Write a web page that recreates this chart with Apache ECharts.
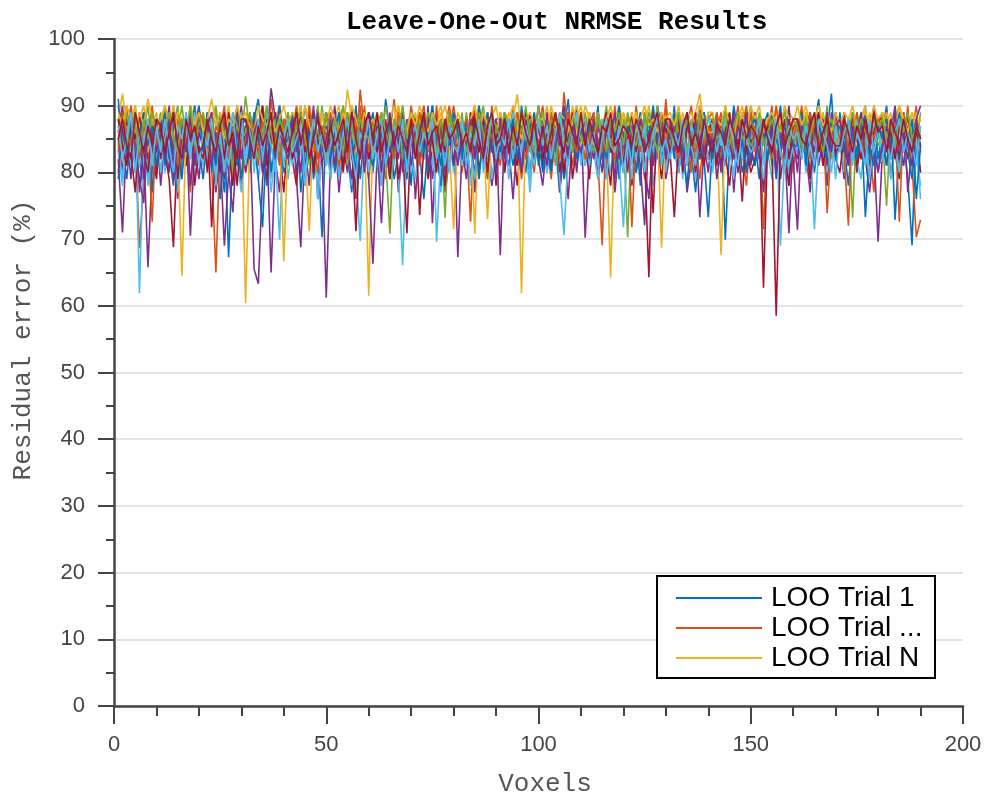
<!DOCTYPE html>
<html>
<head>
<meta charset="utf-8">
<title>Leave-One-Out NRMSE Results</title>
<script src="https://cdn.jsdelivr.net/npm/echarts@6/dist/echarts.min.js"></script>
<style>
  html, body { margin: 0; padding: 0; background: #ffffff; }
  #chart { width: 989px; height: 799px; }
</style>
</head>
<body>
<div id="chart"></div>
<script>
// Residual error (%) per voxel (voxels 1..190) for each leave-one-out trial
const trial01 = [
  91,84,79,86,89,82,77,88,85,80, 87,90,83,78,85,88,81,86,90,84,
  79,86,89,83,76,87,67.3,84,90,82, 86,80,88,91,84,78,85,89,82,87,
  83,89,80,85,90,86,79,84,70.3,88, 85,81,87,90,83,77,86,88,82,89,
  80,87,84,91,86,79,83,88,85,78, 88,83,76,85,90,84,87,81,89,86,
  82,88,85,79,87,90,83,86,78,84, 89,84,81,87,83,90,85,79,88,82,
  86,80,89,84,77,86,91,83,85,88, 81,87,84,90,82,79,86,89,84,80,
  88,83,86,78,89,85,82,90,87,81, 84,90,80,86,88,83,77,85,89,84,
  87,82,88,69.9,84,90,86,80,83,89, 85,79,87,89,82,86,90,84,78,88,
  83,88,85,80,87,91,84,86,91.8,82, 89,84,78,86,83,88,90,81,85,80,
  86,90,83,88,81,85,79,69.1,87,84
];
const trial02 = [
  84,88,90,82,86,68.7,79,87,89,83, 88,82,85,90,79,86,84,77,87,90,
  85,89,81,65,84,88,86,79,90,83, 87,83,89,86,80,84,91,85,82,88,
  82,86,90,84,78,87,83,89,86,81, 89,84,80,87,85,90,83,92.4,86,79,
  85,88,83,79,86,91,84,87,80,89, 83,87,90,85,81,88,84,78,86,90,
  86,80,85,72.6,89,84,87,82,90,85, 81,88,84,90,86,79,85,89,83,87,
  90,84,79,86,88,83,87,81,85,89, 84,89,86,82,69.1,88,84,90,80,86,
  87,83,90,85,79,86,88,84,82,91, 83,88,84,80,87,90,85,79,86,88,
  89,85,81,88,84,86,90,83,78,87, 84,88,71.5,86,90,82,87,85,89,80,
  86,90,84,79,88,85,82,89,86,83, 88,83,87,85,80,86,89,84,77,87,
  85,89,82,86,88,84,90,81,70.3,72.9
];
const trial03 = [
  88,91.8,87,89,85,88,90,86,84,88, 87,90,88,85,89,87,84,88,90,86,
  89,86,88,90,85,87,89,84,87,88, 60.4,85,88,86,89,87,83,88,90,86,
  87,89,85,88,86,90,87,84,88,89, 85,88,90,86,92.4,88,85,89,87,61.5,
  86,89,87,84,88,90,86,88,85,89, 88,85,89,87,83,88,90,86,89,87,
  86,88,84,89,87,90,85,88,86,84, 89,87,85,88,91.7,86,89,87,84,88,
  87,90,86,88,85,87,89,84,88,90, 85,88,87,89,86,84,64.2,88,90,87,
  88,86,89,85,87,90,86,84,88,89, 86,89,87,84,88,86,89,91.8,87,85,
  88,86,67.6,87,89,85,88,90,86,87, 89,87,85,88,86,90,87,84,89,88,
  86,88,90,87,84,88,86,89,87,85, 88,85,87,89,86,88,90,85,88,87,
  87,89,86,88,90,85,87,89,86,88
];
const trial04 = [
  82,71,86,79,88,77,84,65.8,81,87, 78,85,80,88,76,83,87,70.5,84,79,
  86,81,89,77,83,69,80,85,88,78, 83,87,65.5,63.3,79,85,65,82,77,86,
  81,88,79,68.8,84,78,89,76,83,61.2, 82,86,77,84,80,89,76,83,87,79,
  66.3,83,78,86,81,88,77,84,80,87, 76,85,82,89,79,83,86,77,82,88,
  67.3,84,79,86,77,85,81,89,78,83, 87,80,84,76,85,81,88,79,86,82,
  78,85,81,89,77,84,76,86,82,88, 70.2,83,87,79,85,80,88,77,84,81,
  86,78,84,88,81,76,85,82,89,79, 83,88,80,85,77,82,87,73.3,84,80,
  87,79,84,81,88,77,85,89,80,84, 81,86,77,85,82,88,79,84,70.9,86,
  80,87,83,77,86,81,85,78,89,82, 85,79,84,88,80,86,82,77,84,69.6,
  83,88,79,85,81,89,77,84,87,80
];
const trial05 = [
  85,89,83,87,90,84,86,81,88,86, 89,84,87,82,86,90,85,88,83,87,
  84,88,85,90,83,86,89,80,87,85, 91.4,86,83,88,85,89,84,87,82,88,
  86,83,89,85,87,81,88,84,90,85, 83,88,86,90,84,87,82,89,85,87,
  88,84,87,82,70.8,88,85,90,83,86, 85,89,84,87,83,88,86,73.2,89,84,
  87,83,89,85,88,80,86,89,84,87, 84,88,86,82,89,85,87,83,88,86,
  89,85,83,88,86,90,84,87,82,88, 86,82,88,84,87,89,85,81,88,85,
  70.3,87,85,89,83,86,90,84,87,83, 88,84,87,83,89,85,82,88,86,89,
  84,88,85,90,86,82,87,84,89,86, 87,83,88,85,81,88,86,90,84,87,
  85,89,83,87,86,84,89,85,82,88, 88,84,86,73.2,89,85,83,88,86,84,
  86,75,88,84,87,89,85,82,88,86
];
const trial06 = [
  83,78,86,81,88,61.9,84,79,87,82, 86,80,84,89,77,85,82,88,79,84,
  81,87,83,78,86,84,80,88,82,77, 85,82,88,79,84,86,77,83,69.9,87,
  79,85,82,88,80,84,87,76,83,86, 82,88,79,84,86,78,85,83,88,80,
  86,81,78,85,83,87,80,66.1,84,82, 79,86,83,88,81,85,77,84,87,80,
  85,81,87,78,84,88,82,86,79,84, 82,87,79,85,88,81,84,77,86,83,
  88,80,84,86,79,70.6,83,87,81,85, 81,86,83,79,88,84,80,86,82,88,
  84,79,87,82,85,88,78,84,86,80, 87,83,80,86,82,88,79,85,83,87,
  80,85,88,81,84,79,87,83,86,82, 85,82,79,87,84,88,69,83,80,86,
  83,87,81,85,71.5,84,88,80,86,83, 86,80,84,88,82,79,86,83,87,81,
  82,86,79,84,87,81,85,88,83,78
];
const trial07 = [
  85,80,88,83,77,86,89,82,84,79, 87,83,79,68.8,85,88,81,86,78,84,
  82,88,71.8,85,80,87,83,78,86,89, 80,84,88,82,86,79,85,89,83,77,
  86,82,78,87,84,89,80,85,82,88, 79,86,84,81,88,83,77,86,89,82,
  84,88,80,85,83,87,79,84,70.9,86, 88,82,86,79,84,89,83,78,86,82,
  83,87,81,86,89,80,85,82,88,78, 86,80,88,84,78,86,83,89,81,85,
  81,86,83,88,80,85,89,79,84,87, 85,79,86,82,88,83,78,87,84,81,
  88,83,80,86,82,64.3,87,84,79,86, 83,73.3,85,88,81,86,80,85,88,82,
  86,81,88,83,78,85,89,82,84,80, 82,87,62.7,85,88,80,86,83,78,87,
  87,83,85,79,86,89,81,84,87,82, 80,86,83,88,81,84,87,79,85,88,
  85,81,87,83,79,86,82,88,84,80
];
const trial08 = [
  79,87,84,90,81,86,83,88,77,85, 86,81,89,84,78,87,85,82,90,83,
  84,89,80,86,83,77,88,85,81,87, 88,83,85,79,71.8,86,89,82,85,80,
  82,86,89,77,84,88,81,86,83,89, 87,80,84,88,82,85,90,79,86,83,
  81,88,83,85,79,87,84,89,82,86, 86,82,89,80,87,83,78,88,85,81,
  84,87,81,88,83,90,85,79,86,88, 88,83,86,81,89,84,80,87,83,85,
  80,86,88,83,85,79,87,84,90,82, 87,81,84,89,82,86,83,88,79,86,
  83,88,80,85,87,82,90,84,81,88, 86,82,89,83,78,86,84,87,82,73.3,
  85,89,82,86,83,88,80,85,89,83, 81,86,88,82,86,79,87,84,81,88,
  88,83,85,89,80,86,83,88,84,82, 84,87,81,86,83,88,73.3,84,89,82,
  86,81,88,72.9,84,87,83,79,86,84
];
const trial09 = [
  88,83,86,90,84,81,87,85,72.6,88, 84,89,82,86,88,80,85,90,83,86,
  87,81,88,84,86,90,82,87,85,79, 83,88,85,81,89,84,87,83,90,85,
  86,82,87,90,83,88,85,80,87,84, 89,84,81,86,88,83,87,90,82,86,
  83,87,89,84,80,86,88,83,85,90, 86,81,85,88,84,90,82,87,83,86,
  88,85,82,87,90,83,86,79,88,84, 84,88,86,82,87,85,89,84,80,87,
  87,83,89,85,82,92,86,83,88,85, 82,86,84,89,85,81,88,85,87,83,
  88,71.8,86,83,89,85,82,88,84,90, 85,88,83,87,84,80,87,90,85,82,
  83,86,89,84,88,85,81,87,90,84, 87,84,82,88,85,90,84,80,86,88,
  84,89,86,82,87,84,88,73.9,85,89, 86,83,72,88,85,82,89,86,83,87,
  89,85,82,87,72.6,88,84,86,90,83
];
const trial10 = [
  86,89,84,87,90,85,88,83,87,89, 84,88,86,90,85,64.5,87,89,84,88,
  87,85,89,84,88,86,90,85,83,88, 89,86,84,88,85,87,89,83,87,66.7,
  85,88,86,90,84,71.2,87,85,89,86, 88,84,87,85,89,86,83,88,85,87,
  86,89,85,83,88,86,90,84,87,85, 89,85,88,86,83,87,89,85,84,71.5,
  86,88,84,87,70.8,89,85,73,88,86, 84,87,89,85,88,61.9,87,84,89,86,
  88,85,86,89,84,87,85,90,86,84, 87,89,84,86,88,85,83,88,86,89,
  85,87,89,84,86,88,85,87,68.7,88, 87,84,86,89,85,87,88,84,86,89,
  89,86,84,88,86,83,87,89,85,87, 85,88,86,84,89,87,85,88,84,86,
  88,85,89,86,84,87,89,85,88,84, 86,89,85,87,88,84,86,89,85,88,
  84,87,89,85,86,88,84,87,89,85
];
const trial11 = [
  86,90,82,88,84,79,75.4,87,89,83, 88,84,90,81,86,83,89,78,85,88,
  84,87,89,82,86,88,80,74,85,90, 82,86,88,84,90,85,92.6,88,83,86,
  89,83,86,80,87,84,90,82,86,84, 85,90,83,87,84,79,86,88,82,89,
  87,84,72.4,85,89,83,87,80,88,84, 84,88,82,90,72.4,85,83,88,86,81,
  88,83,87,84,80,86,89,83,85,88, 67.6,87,84,89,82,86,83,88,85,90,
  85,81,88,84,87,90,83,86,80,87, 88,85,82,87,84,89,85,79,88,84,
  83,88,85,81,72.1,86,89,84,87,82, 87,83,89,85,88,82,86,90,83,86,
  84,88,83,87,85,89,80,86,88,84, 89,84,87,82,86,88,83,85,90,82,
  71.4,87,85,89,83,86,88,81,86,89, 85,89,82,86,88,84,87,83,90,85,
  88,83,86,90,84,81,87,85,88,90
];
const trial12 = [
  87,84,89,85,82,88,86,90,84,87, 85,89,83,87,90,84,86,82,88,85,
  88,83,86,89,85,81,87,84,90,86, 84,88,85,82,87,90,85,88,83,87,
  89,85,87,84,88,83,86,90,85,82, 86,83,89,87,81,88,85,84,89,86,
  83,88,85,90,86,84,88,82,87,89, 88,84,87,83,89,86,81,87,85,88,
  85,89,82,88,84,87,90,85,83,86, 87,83,88,86,82,89,84,88,86,90,
  84,88,86,81,88,85,87,83,89,85, 89,85,83,88,86,90,84,87,82,88,
  86,82,88,85,89,84,86,90,85,83, 84,89,85,87,83,88,85,82,88,86,
  88,85,82,88,86,84,89,85,87,90, 85,88,86,83,89,85,82,88,86,84,
  87,83,89,86,84,88,85,90,83,87, 84,88,85,82,87,89,84,86,88,85,
  89,85,87,84,80,86,88,85,84,89
];
const trial13 = [
  84,79,87,83,89,81,86,78,85,88, 80,86,83,88,78,85,87,82,89,84,
  87,82,85,79,88,84,81,86,83,89, 82,88,80,86,84,89,79,85,88,81,
  86,81,88,83,78,86,84,89,82,85, 79,87,84,86,82,88,80,69.7,85,83,
  88,83,79,87,85,81,88,84,86,80, 84,88,82,85,89,69.6,83,87,80,86,
  81,86,88,83,79,87,85,82,88,84, 87,82,85,89,81,84,88,79,86,83,
  83,88,80,86,84,82,87,85,89,81, 86,81,87,83,88,79,85,88,82,71.8,
  84,88,82,87,80,86,83,89,81,85, 88,83,86,79,87,84,81,86,88,82,
  81,87,84,88,83,80,86,82,87,85, 86,82,88,83,79,87,85,88,81,84,
  83,88,80,86,84,88,82,85,87,79, 87,84,86,81,88,83,87,79,84,88,
  82,86,88,84,80,87,83,88,85,76
];
const trial14 = [
  88,84,81,87,85,89,83,80,86,88, 82,87,85,89,79,86,84,88,81,87,
  86,80,88,84,87,82,89,85,78,86, 84,88,83,86,90,81,86,83,88,84,
  87,82,85,89,83,87,80,86,84,88, 83,88,86,80,87,84,71.2,86,89,82,
  86,83,88,85,79,87,84,89,82,86, 88,73.6,84,87,85,80,88,83,86,84,
  84,87,82,89,86,83,88,80,87,85, 87,83,88,84,81,86,89,85,82,88,
  82,86,84,88,87,80,85,89,84,86, 88,84,87,82,86,89,83,85,88,81,
  85,89,83,87,84,86,73.9,88,83,87, 83,86,88,80,87,85,89,84,81,86,
  88,84,81,86,89,83,85,75.6,87,84, 85,88,84,87,83,58.5,84,88,82,87,
  87,82,88,84,86,89,81,85,88,83, 84,87,83,89,85,82,87,84,86,88,
  88,84,86,82,87,85,89,83,86,84
];
const trial15 = [
  90,86,83,88,80,85,89,84,87,81, 85,89,82,87,84,79,88,86,83,90,
  83,87,85,81,89,86,83,88,84,79, 87,82,89,85,83,88,80,86,90,84,
  85,89,83,87,81,86,88,83,85,89, 82,86,89,83,87,85,80,88,84,86,
  89,84,86,81,88,83,87,85,79,88, 84,88,83,86,90,85,81,87,84,89,
  86,82,88,84,87,79,86,89,83,85, 83,89,85,88,82,87,84,86,89,81,
  88,84,80,87,85,89,83,86,82,87, 84,87,89,83,86,82,88,85,90,84,
  87,82,85,89,84,88,81,86,83,88, 85,89,83,86,88,84,87,82,89,85,
  82,86,88,84,87,83,89,85,80,87, 88,84,86,82,89,85,83,87,86,84,
  84,89,81,87,85,88,84,82,88,86, 87,83,88,85,82,86,89,84,81,87,
  85,88,84,86,89,83,85,88,76,84
];
const trial16 = [
  83,89,86,84,88,82,87,85,90,84, 86,83,89,85,81,88,84,87,83,89,
  88,84,82,87,85,89,83,86,88,82, 85,89,86,83,88,84,87,85,81,88,
  87,83,88,86,84,90,85,82,87,84, 84,88,85,89,82,86,88,84,90,83,
  88,85,83,87,85,82,89,86,84,88, 85,89,86,84,88,86,83,87,90,85,
  83,86,88,85,82,89,84,88,85,87, 88,84,86,83,89,85,82,86,88,84,
  85,88,83,87,86,84,89,85,83,88, 87,84,89,85,83,88,86,82,87,85,
  84,87,85,88,85,83,88,86,89,84, 88,85,82,86,89,85,83,88,84,87,
  85,89,86,84,87,82,88,85,86,89, 83,86,88,85,82,87,89,84,88,85,
  88,84,86,89,85,83,86,88,84,87, 85,88,83,86,89,85,82,87,85,88,
  87,84,88,85,83,89,86,84,87,85
];
const trial17 = [
  89,87,90,88,86,89,87,91,88,86, 88,90,87,85,89,88,86,90,87,89,
  86,88,91,87,89,85,88,87,90,88, 89,87,86,90,88,87,89,86,88,90,
  87,89,88,86,90,87,85,89,88,87, 90,88,86,89,87,90,88,86,89,87,
  88,86,89,87,85,88,90,87,86,89, 87,90,88,86,89,87,88,90,87,86,
  89,87,85,88,90,86,89,87,88,90, 86,89,88,90,87,85,88,89,87,88,
  88,86,90,87,89,88,86,88,90,87, 90,88,87,89,86,88,90,87,85,89,
  87,89,86,88,90,87,88,86,89,88, 89,87,90,86,88,89,87,90,88,86,
  86,88,87,90,87,85,89,88,86,90, 88,90,86,88,89,87,86,90,88,87,
  90,87,89,86,88,90,87,88,86,89, 87,89,88,90,86,88,89,87,90,88,
  89,86,88,87,90,88,86,89,87,88
];
const trial18 = [
  80,87,84,89,82,86,79,88,85,83, 86,82,88,79,85,87,83,89,81,86,
  84,88,81,86,83,79,87,84,89,82, 87,83,86,88,80,85,89,82,86,84,
  82,88,84,80,87,83,86,89,81,85, 88,81,86,84,89,82,85,87,80,88,
  84,87,80,88,83,86,82,89,85,81, 87,83,89,81,86,84,88,80,87,85,
  81,86,84,88,82,89,83,86,84,80, 88,82,87,83,86,80,88,85,82,87,
  83,89,81,86,84,88,82,87,85,83, 86,82,88,84,80,87,85,89,82,86,
  80,87,84,88,83,86,81,85,88,82, 87,83,86,81,89,84,88,82,86,85,
  83,88,80,86,84,82,87,85,89,81, 86,82,88,84,87,80,86,83,88,84,
  82,87,85,88,81,86,84,89,83,87, 88,84,81,87,85,89,82,86,84,80,
  84,87,83,89,82,86,84,81,88,85
];
const trial19 = [
  86,88,84,89,87,83,88,85,89,86, 84,87,89,85,83,88,86,90,84,87,
  89,85,87,83,88,86,84,89,87,85, 86,89,84,87,85,90,86,83,88,86,
  88,84,87,89,85,83,88,86,84,89, 85,88,86,83,89,87,84,88,86,85,
  87,85,89,86,84,88,86,90,85,87, 84,88,85,89,87,83,88,84,89,86,
  88,86,83,87,85,89,86,84,88,87, 85,89,87,84,88,86,90,85,83,88,
  87,84,88,86,89,85,84,88,87,85, 84,88,85,89,86,83,88,86,89,84,
  89,86,84,87,85,89,86,83,88,87, 86,84,89,85,88,86,84,89,85,88,
  88,85,86,89,84,87,89,85,86,84, 85,89,84,86,88,85,87,89,84,88,
  87,84,88,85,89,86,83,87,88,85, 84,88,86,89,85,88,86,84,89,87,
  88,85,87,84,88,86,89,85,87,86
];
const trial20 = [
  87,82,85,89,80,86,84,88,81,87, 83,88,84,80,87,85,89,83,86,81,
  86,84,88,83,86,80,85,89,82,87, 81,86,83,88,82,87,84,80,86,85,
  88,83,85,87,80,84,88,83,86,81, 84,87,82,86,88,83,79,86,84,88,
  82,86,88,81,85,87,83,88,80,85, 87,83,86,84,88,82,85,81,87,84,
  83,88,81,86,84,88,80,85,89,82, 86,84,88,82,86,83,87,84,81,88,
  84,87,82,86,89,84,81,86,84,87, 88,83,86,81,85,88,84,83,87,80,
  85,81,88,84,87,82,86,88,83,85, 82,86,84,88,81,87,85,83,86,88,
  87,83,86,82,88,84,81,87,85,83, 84,88,81,86,84,88,83,80,87,85,
  86,82,87,84,81,88,86,84,80,87, 83,86,88,82,86,84,81,88,83,86,
  87,84,82,86,88,83,86,84,81,87
];
const trial21 = [
  85,88,84,82,89,86,83,87,84,88, 87,83,86,89,84,82,88,85,87,83,
  84,88,85,83,87,89,84,86,82,88, 88,85,82,87,84,86,89,83,87,85,
  83,86,89,84,88,82,85,88,86,83, 87,84,86,88,83,89,85,82,87,89,
  85,89,83,86,88,84,87,85,83,88, 82,86,89,84,86,87,83,88,85,86,
  88,84,86,83,88,85,82,87,89,84, 85,88,83,87,84,89,86,84,88,83,
  87,83,86,89,85,83,88,86,84,89, 84,88,85,83,87,86,89,84,85,87,
  86,84,88,86,83,85,87,89,84,88, 88,85,83,87,89,84,86,83,88,85,
  83,87,86,84,88,86,83,88,85,87, 86,84,88,85,83,87,89,84,86,88,
  88,85,84,87,89,83,86,88,85,84, 84,88,86,83,87,85,88,84,89,86,
  87,83,88,86,84,88,85,83,87,85
];

// Plotting order follows the MATLAB colour cycle: blue, orange, yellow, purple, green, light blue, dark red
const trials = [trial01, trial02, trial03, trial04, trial05, trial06, trial07,
                trial08, trial09, trial10, trial11, trial12, trial13, trial14,
                trial15, trial16, trial17, trial18, trial19, trial20, trial21];
const legendNames = ['LOO Trial 1', 'LOO Trial ...', 'LOO Trial N'];

const palette = ['#0072BD', '#D95319', '#EDB120', '#7E2F8E', '#77AC30', '#4DBEEE', '#A2142F'];

const xTicks = { min: 0, max: 200, step: 50 };
const yTicks = { min: 0, max: 100, step: 10 };

const axisColor = '#444444';
const labelColor = '#444444';
const tickFont = 'Liberation Sans, Helvetica, Arial, sans-serif';
const monoFont = 'Liberation Mono, Courier New, monospace';

const series = trials.map((vals, k) => ({
  name: k < legendNames.length ? legendNames[k] : 'LOO Trial ' + (k + 1),
  type: 'line',
  data: vals.map((v, i) => [i + 1, v]),
  showSymbol: false,
  symbol: 'none',
  lineStyle: { width: 1.6, color: palette[k % palette.length] },
  itemStyle: { color: palette[k % palette.length] },
  emphasis: { disabled: true },
  animation: false,
  z: 2
}));

const chart = echarts.init(document.getElementById('chart'), null, { renderer: 'canvas' });
chart.setOption({
  backgroundColor: '#ffffff',
  animation: false,
  title: {
    text: 'Leave-One-Out NRMSE Results',
    left: 341,
    top: 4,
    textStyle: { fontFamily: monoFont, fontWeight: 'bold', fontSize: 26, color: '#000000' }
  },
  grid: { left: 114, right: 26, top: 39, bottom: 93, containLabel: false, outerBoundsMode: 'none' },
  xAxis: {
    type: 'value',
    min: xTicks.min, max: xTicks.max, interval: xTicks.step,
    axisLine: { show: true, lineStyle: { color: axisColor, width: 2.5 } },
    axisTick: { show: true, inside: false, length: 18, lineStyle: { color: axisColor, width: 2 } },
    minorTick: { show: true, splitNumber: 5, length: 10, lineStyle: { color: axisColor, width: 2 } },
    axisLabel: { margin: 28, fontFamily: tickFont, fontSize: 22, color: labelColor },
    splitLine: { show: false }
  },
  yAxis: {
    type: 'value',
    min: yTicks.min, max: yTicks.max, interval: yTicks.step,
    axisLine: { show: true, lineStyle: { color: axisColor, width: 2.5 } },
    axisTick: { show: true, inside: false, length: 16, lineStyle: { color: axisColor, width: 2 } },
    minorTick: { show: true, splitNumber: 2, length: 8, lineStyle: { color: axisColor, width: 2 } },
    axisLabel: { margin: 29, fontFamily: tickFont, fontSize: 22, color: labelColor },
    splitLine: { show: true, lineStyle: { color: '#e3e3e3', width: 2 } }
  },
  legend: {
    data: legendNames,
    orient: 'vertical',
    left: 676,
    top: 583,
    padding: 0,
    itemWidth: 86,
    itemHeight: 2,
    itemGap: 0,
    icon: 'rect',
    selectedMode: false,
    z: 10,
    textStyle: { fontFamily: tickFont, fontSize: 28, color: '#000000', lineHeight: 30, padding: [0, 0, 0, 4] }
  },
  graphic: [
    {
      type: 'rect',
      z: 8,
      shape: { x: 657, y: 576, width: 278, height: 102 },
      style: { fill: '#ffffff', stroke: '#000000', lineWidth: 2 }
    },
    {
      // y-axis title
      type: 'text',
      x: 23, y: 340,
      rotation: Math.PI / 2,
      style: {
        text: 'Residual error (%)',
        font: '26px ' + monoFont,
        fill: '#555555',
        align: 'center',
        verticalAlign: 'middle'
      }
    },
    {
      // x-axis title
      type: 'text',
      x: 545, y: 784,
      style: {
        text: 'Voxels',
        font: '26px ' + monoFont,
        fill: '#555555',
        align: 'center',
        verticalAlign: 'middle'
      }
    }
  ],
  series: series
});
</script>
</body>
</html>
